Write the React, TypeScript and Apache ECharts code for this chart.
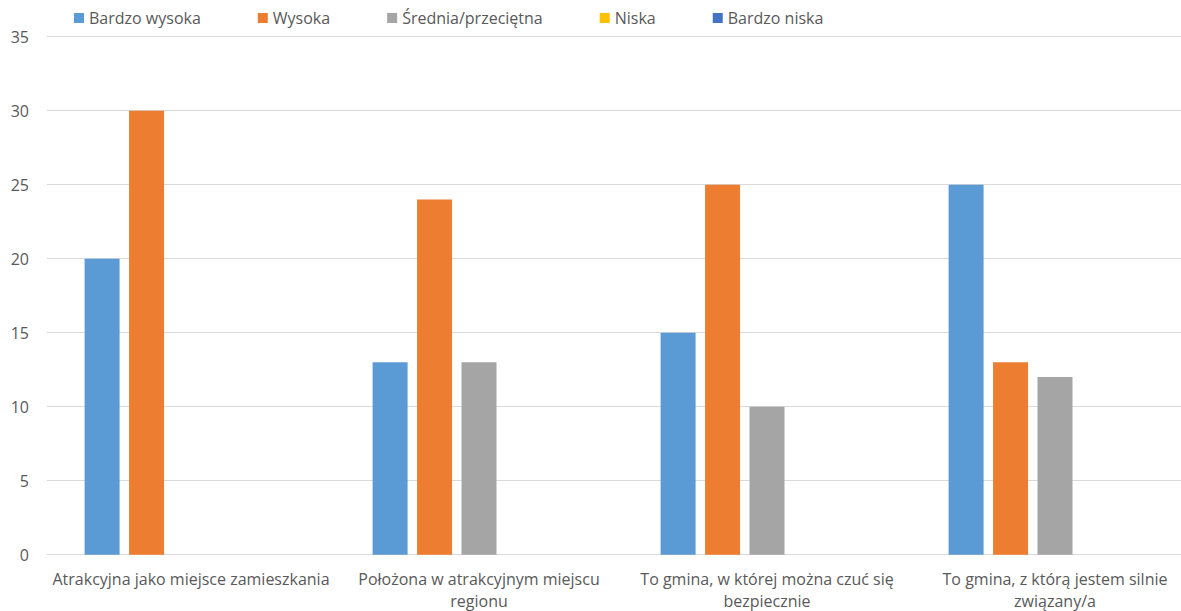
import React, { useEffect, useRef } from "react";
import * as echarts from "echarts";

const categories = [
  "Atrakcyjna jako miejsce zamieszkania",
  "Położona w atrakcyjnym miejscu\nregionu",
  "To gmina, w której można czuć się\nbezpiecznie",
  "To gmina, z którą jestem silnie\nzwiązany/a",
];
const seriesNames = ["Bardzo wysoka", "Wysoka", "Średnia/przeciętna", "Niska", "Bardzo niska"];
const bardzoWysoka = [20, 13, 15, 25];
const wysoka = [30, 24, 25, 13];
const srednia = [0, 13, 10, 12];
const niska = [0, 0, 0, 0];
const bardzoNiska = [0, 0, 0, 0];
const colors = ["#5B9BD5", "#ED7D31", "#A5A5A5", "#FFC000", "#4472C4"];

const FONT = "'Open Sans', 'Liberation Sans', sans-serif";

export default function App() {
  const ref = useRef<HTMLDivElement>(null);
  useEffect(() => {
    if (!ref.current) return;
    const chart = echarts.init(ref.current, null, { renderer: "svg" });
    const values = [bardzoWysoka, wysoka, srednia, niska, bardzoNiska];
    chart.setOption({
      animation: false,
      textStyle: { fontFamily: FONT },
      legend: {
        left: 74,
        top: 10,
        padding: 0,
        itemWidth: 10,
        itemHeight: 10,
        itemGap: 57,
        icon: "rect",
        textStyle: { color: "#595959", fontSize: 16, fontFamily: FONT },
        data: seriesNames,
      },
      grid: {
        left: 47,
        top: 36.7,
        width: 1152,
        height: 518,
        containLabel: false,
        outerBoundsMode: "none",
      },
      xAxis: {
        type: "category",
        data: categories,
        axisTick: { show: false },
        axisLine: { lineStyle: { color: "#D9D9D9", width: 1 } },
        axisLabel: {
          color: "#595959",
          fontSize: 16,
          fontFamily: FONT,
          margin: 13,
          lineHeight: 22,
          interval: 0,
        },
      },
      yAxis: {
        type: "value",
        min: 0,
        max: 35,
        interval: 5,
        axisLine: { show: false },
        axisTick: { show: false },
        splitLine: { lineStyle: { color: "#D9D9D9", width: 1 } },
        axisLabel: { color: "#595959", fontSize: 16, fontFamily: FONT, margin: 18 },
      },
      series: seriesNames.map((name, i) => ({
        name,
        type: "bar",
        data: values[i],
        barWidth: 35,
        barGap: "27%",
        itemStyle: { color: colors[i] },
      })),
    });
    return () => chart.dispose();
  }, []);
  return (
    <div
      ref={ref}
      style={{ position: "absolute", left: 0, top: 0, width: 1181, height: 611, overflow: "hidden" }}
    />
  );
}
